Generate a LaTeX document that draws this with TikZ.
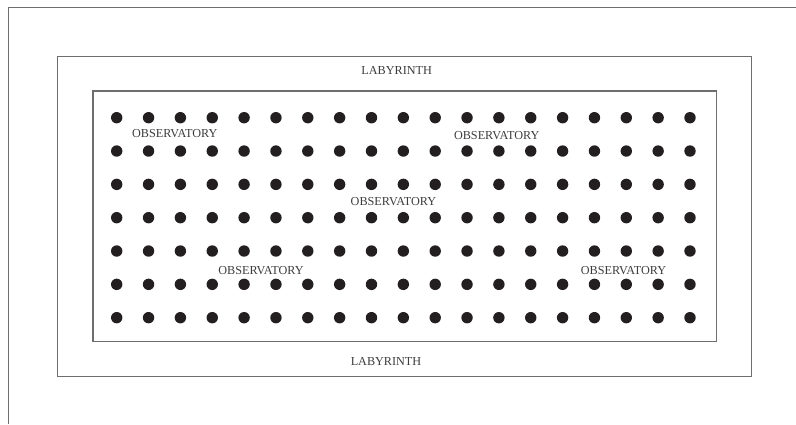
\documentclass[tikz,border=0pt]{standalone}
\usepackage{fontspec}
\setmainfont{Liberation Serif}
\usepackage{xcolor}
\usetikzlibrary{positioning}

\definecolor{framegray}{HTML}{6E6E6E}
\definecolor{textgray}{HTML}{3C3C3C}
\definecolor{dotblack}{HTML}{231F20}

\begin{document}
\begin{tikzpicture}[x=1pt, y=-1pt,
  frame/.style={draw=framegray, line width=1.2pt},
  dot/.style={circle, fill=dotblack, inner sep=0pt, minimum size=11.4pt},
  label/.style={inner sep=0pt, text=textgray, font=\fontsize{12.2}{13}\selectfont}]
\useasboundingbox (0,0) rectangle (796,424);

% outer frame (top and left only)
\draw[frame] (796,7.3) -- (8.7,7.3) -- (8.7,424);

% labyrinth and field
\draw[frame] (57.3,56.7) rectangle (751.7,376.3);
\draw[frame] (92.9,91) rectangle (716.5,341.8);

% dots
\foreach \r in {0,...,6}
  \foreach \c in {0,...,18}
    \node[dot] (d-\r-\c) at (116.7+31.85*\c, 117.7+33.33*\r) {};

% labels
\node[label] (labtop) at (396.7,70.7) {LABYRINTH};
\node[label] (labbot) at (386,361) {LABYRINTH};
\node[label] (obs1) at (174.8,134) {OBSERVATORY};
\node[label] (obs2) at (496.7,135.3) {OBSERVATORY};
\node[label] (obs3) at (393.4,201.5) {OBSERVATORY};
\node[label] (obs4) at (261,271) {OBSERVATORY};
\node[label] (obs5) at (623.5,270.5) {OBSERVATORY};
\end{tikzpicture}
\end{document}
